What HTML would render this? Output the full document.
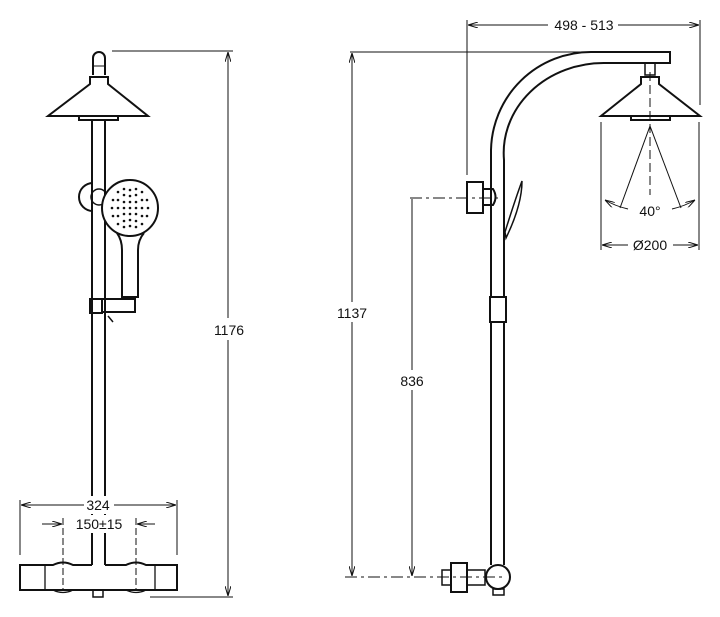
<!DOCTYPE html>
<html><head><meta charset="utf-8"><style>
html,body{margin:0;padding:0;background:#fff;}
svg{display:block;}
text{font-family:"Liberation Sans",sans-serif;font-size:14px;fill:#111;}
</style></head><body>
<svg width="720" height="617" viewBox="0 0 720 617" xmlns="http://www.w3.org/2000/svg">
<defs>
<marker id="a" viewBox="0 0 10 6" refX="10" refY="3" markerWidth="10" markerHeight="6" orient="auto-start-reverse" markerUnits="userSpaceOnUse"><path d="M0,0 L10,3 L0,6" fill="none" stroke="#111" stroke-width="1"/></marker>
</defs>
<g fill="none" stroke="#111" stroke-width="2">
<!-- LEFT VIEW -->
<path d="M93,75 L93,58 A6,6 0 0 1 105,58 L105,75"/>
<line x1="93" y1="66" x2="105" y2="66" stroke-width="1"/>
<path d="M90,77 L108,77 L108,84 L148,116 L48,116 L90,84 Z"/>
<rect x="79" y="116" width="39" height="4"/>
<line x1="92" y1="120" x2="92" y2="565"/>
<line x1="105" y1="120" x2="105" y2="565"/>
<path d="M93,183 A14,14 0 0 0 93,211"/>
<circle cx="99" cy="197" r="8" stroke-width="1.5"/>
<circle cx="130" cy="208" r="28" fill="#fff"/>
<path d="M117,233 Q122,240 122,250 L122,297 L138,297 L138,250 Q138,240 144,233"/>
<rect x="90" y="299" width="12" height="14"/>
<rect x="102" y="299" width="33" height="13"/>
<line x1="108" y1="316" x2="113" y2="322" stroke-width="1.5"/>
<path d="M92,565 L73,565 Q63,560 53,565 L20,565 L20,590 L177,590 L177,565 L146,565 Q136,560 126,565 L105,565"/>
<path d="M45,565 L45,590 M155,565 L155,590 M53,590 Q63,595 73,590 M126,590 Q136,595 146,590" stroke-width="1.3"/>
<rect x="93" y="590" width="10" height="7" stroke-width="1.5"/>
</g>
<g fill="#111">
<circle cx="130" cy="208" r="1.3"/><circle cx="124" cy="208" r="1.3"/><circle cx="136" cy="208" r="1.3"/><circle cx="130" cy="202" r="1.3"/><circle cx="130" cy="214" r="1.3"/>
<circle cx="118" cy="208" r="1.3"/><circle cx="142" cy="208" r="1.3"/><circle cx="130" cy="196" r="1.3"/><circle cx="130" cy="220" r="1.3"/>
<circle cx="124" cy="202" r="1.3"/><circle cx="136" cy="202" r="1.3"/><circle cx="124" cy="214" r="1.3"/><circle cx="136" cy="214" r="1.3"/>
<circle cx="118" cy="200" r="1.3"/><circle cx="142" cy="200" r="1.3"/><circle cx="118" cy="216" r="1.3"/><circle cx="142" cy="216" r="1.3"/>
<circle cx="124" cy="195" r="1.3"/><circle cx="136" cy="195" r="1.3"/><circle cx="124" cy="221" r="1.3"/><circle cx="136" cy="221" r="1.3"/>
<circle cx="112" cy="208" r="1.3"/><circle cx="148" cy="208" r="1.3"/><circle cx="130" cy="190" r="1.3"/><circle cx="130" cy="226" r="1.3"/>
<circle cx="113" cy="200" r="1.3"/><circle cx="147" cy="200" r="1.3"/><circle cx="113" cy="216" r="1.3"/><circle cx="147" cy="216" r="1.3"/>
<circle cx="118" cy="192" r="1.3"/><circle cx="142" cy="192" r="1.3"/><circle cx="118" cy="224" r="1.3"/><circle cx="142" cy="224" r="1.3"/>
<circle cx="124" cy="189" r="1.3"/><circle cx="136" cy="189" r="1.3"/><circle cx="124" cy="227" r="1.3"/><circle cx="136" cy="227" r="1.3"/>
</g>
<g fill="none" stroke="#111" stroke-width="1">
<line x1="112" y1="51" x2="233" y2="51"/>
<line x1="228" y1="52" x2="228" y2="596" marker-start="url(#a)" marker-end="url(#a)"/>
<line x1="150" y1="597" x2="233" y2="597"/>
<line x1="20" y1="500" x2="20" y2="555"/>
<line x1="177" y1="500" x2="177" y2="555"/>
<line x1="21" y1="505" x2="176" y2="505" marker-start="url(#a)" marker-end="url(#a)"/>
<line x1="42" y1="524" x2="62" y2="524" marker-end="url(#a)"/>
<line x1="155" y1="524" x2="137" y2="524" marker-end="url(#a)"/>
<line x1="63" y1="518" x2="63" y2="590" stroke-dasharray="7,3"/>
<line x1="136" y1="518" x2="136" y2="590" stroke-dasharray="7,3"/>
</g>
<rect x="210" y="318" width="38" height="22" fill="#fff"/>
<text x="229" y="335" text-anchor="middle">1176</text>
<rect x="84" y="496" width="30" height="18" fill="#fff"/>
<text x="98" y="510" text-anchor="middle">324</text>
<rect x="72" y="515" width="54" height="18" fill="#fff"/>
<text x="99" y="529" text-anchor="middle">150±15</text>

<!-- RIGHT VIEW -->
<g fill="none" stroke="#111" stroke-width="2">
<path d="M491,565 L491,150 A100,100 0 0 1 591,52 L670,52 L670,63 L604,63 A100,90 0 0 0 504,160 L504,565"/>
<rect x="467" y="182" width="16" height="31" fill="#fff"/>
<path d="M483,189 L493,189 Q498,197 493,205 L483,205" />
<path d="M505,232 Q515,200 522,181 Q522,205 506,238 Z" stroke-width="1.5"/>
<rect x="490" y="297" width="16" height="25" fill="#fff"/>
<rect x="645" y="63" width="10" height="12" stroke-width="1.5"/>
<path d="M641,77 L659,77 L659,84 L700,116 L601,116 L641,84 Z"/>
<rect x="631" y="116" width="39" height="4"/>
<rect x="451" y="563" width="16" height="29" fill="#fff"/>
<rect x="442" y="570" width="9" height="15" stroke-width="1.5"/>
<rect x="467" y="570" width="18" height="15" stroke-width="1.5"/>
<circle cx="498" cy="577" r="12" fill="#fff"/>
<rect x="493" y="589" width="11" height="6" stroke-width="1.5"/>
</g>
<g fill="none" stroke="#111" stroke-width="1">
<line x1="350" y1="52" x2="590" y2="52"/>
<line x1="352" y1="53" x2="352" y2="576" marker-start="url(#a)" marker-end="url(#a)"/>
<line x1="412" y1="199" x2="412" y2="576" marker-end="url(#a)"/>
<line x1="345" y1="577" x2="505" y2="577" stroke-dasharray="12,4,3,4"/>
<line x1="410" y1="198" x2="500" y2="198" stroke-dasharray="12,4,3,4"/>
<line x1="467" y1="20" x2="467" y2="175"/>
<line x1="700" y1="20" x2="700" y2="105"/>
<line x1="468" y1="25" x2="548" y2="25" marker-start="url(#a)"/>
<line x1="618" y1="25" x2="699" y2="25" marker-end="url(#a)"/>
<line x1="650" y1="72" x2="650" y2="195" stroke-dasharray="9,4"/>
<line x1="650" y1="126" x2="620" y2="208"/>
<line x1="650" y1="126" x2="681" y2="208"/>
<path d="M605,200 Q615,206 628,209" marker-start="url(#a)"/>
<path d="M695,200 Q685,206 672,209" marker-start="url(#a)"/>
<line x1="601" y1="122" x2="601" y2="250"/>
<line x1="699" y1="122" x2="699" y2="250"/>
<line x1="602" y1="245" x2="628" y2="245" marker-start="url(#a)"/>
<line x1="673" y1="245" x2="698" y2="245" marker-end="url(#a)"/>
</g>
<rect x="333" y="302" width="38" height="20" fill="#fff"/>
<text x="352" y="318" text-anchor="middle">1137</text>
<rect x="396" y="370" width="32" height="20" fill="#fff"/>
<text x="412" y="386" text-anchor="middle">836</text>
<text x="584" y="30" text-anchor="middle">498 - 513</text>
<text x="650" y="216" text-anchor="middle">40°</text>
<text x="650" y="250" text-anchor="middle">Ø200</text>
</svg>
</body></html>
